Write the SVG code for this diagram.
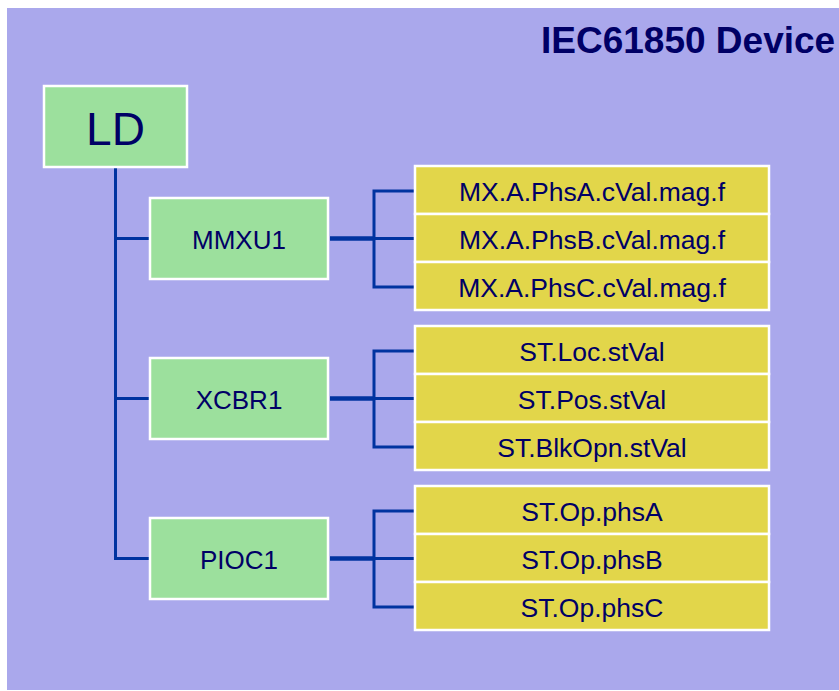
<svg xmlns="http://www.w3.org/2000/svg" width="839" height="691" viewBox="0 0 839 691">
<style>
.bg{fill:#AAA8EC}
.ln{fill:#9CE09D;stroke:#FFFFFF;stroke-width:2.5}
.da{fill:#E2D64A;stroke:#FFFFFF;stroke-width:2.5}
.t{font-family:"Liberation Sans",Arial,sans-serif;fill:#000066;text-anchor:middle}
.s{font-size:26px}
.d{font-size:26.5px}
.c{fill:none;stroke:#0033A0;stroke-width:3}
.cw{fill:none;stroke:#0033A0;stroke-width:4.5}
</style>
<rect x="0" y="0" width="839" height="691" fill="#FFFFFF"/>
<rect class="bg" x="7" y="8" width="840" height="682"/>
<text x="541" y="53" style="font-family:'Liberation Sans',Arial,sans-serif;font-weight:bold;font-size:37px;fill:#000066">IEC61850 Device</text>
<g id="connectors">
<path class="c" d="M115.5,167 V558.5 H150"/>
<path class="c" d="M115.5,238.5 H150"/>
<path class="c" d="M115.5,398.5 H150"/>
<path class="cw" d="M330,238.5 H374"/>
<path class="c" d="M415,191 H374 V287 H415 M374,238.5 H415"/>
<path class="cw" d="M330,398.5 H374"/>
<path class="c" d="M415,351 H374 V447 H415 M374,398.5 H415"/>
<path class="cw" d="M330,558.5 H374"/>
<path class="c" d="M415,511 H374 V607 H415 M374,558.5 H415"/>
</g>
<g id="LD">
<rect class="ln" x="44" y="86" width="143" height="81"/>
<text class="t" x="115.5" y="145" style="font-size:46px">LD</text>
</g>
<g id="MMXU1">
<rect class="ln" x="150" y="198" width="178" height="81"/>
<text class="t s" x="239" y="249">MMXU1</text>
</g>
<g id="XCBR1">
<rect class="ln" x="150" y="358" width="178" height="81"/>
<text class="t s" x="239" y="409">XCBR1</text>
</g>
<g id="PIOC1">
<rect class="ln" x="150" y="518" width="178" height="81"/>
<text class="t s" x="239" y="569">PIOC1</text>
</g>
<g id="MX_PhsA">
<rect class="da" x="415" y="166" width="354" height="48"/>
<text class="t d" x="592" y="201">MX.A.PhsA.cVal.mag.f</text>
</g>
<g id="MX_PhsB">
<rect class="da" x="415" y="214" width="354" height="48"/>
<text class="t d" x="592" y="249">MX.A.PhsB.cVal.mag.f</text>
</g>
<g id="MX_PhsC">
<rect class="da" x="415" y="262" width="354" height="48"/>
<text class="t d" x="592" y="297">MX.A.PhsC.cVal.mag.f</text>
</g>
<g id="ST_Loc">
<rect class="da" x="415" y="326" width="354" height="48"/>
<text class="t d" x="592" y="361">ST.Loc.stVal</text>
</g>
<g id="ST_Pos">
<rect class="da" x="415" y="374" width="354" height="48"/>
<text class="t d" x="592" y="409">ST.Pos.stVal</text>
</g>
<g id="ST_BlkOpn">
<rect class="da" x="415" y="422" width="354" height="48"/>
<text class="t d" x="592" y="457">ST.BlkOpn.stVal</text>
</g>
<g id="ST_phsA">
<rect class="da" x="415" y="486" width="354" height="48"/>
<text class="t d" x="592" y="521">ST.Op.phsA</text>
</g>
<g id="ST_phsB">
<rect class="da" x="415" y="534" width="354" height="48"/>
<text class="t d" x="592" y="569">ST.Op.phsB</text>
</g>
<g id="ST_phsC">
<rect class="da" x="415" y="582" width="354" height="48"/>
<text class="t d" x="592" y="617">ST.Op.phsC</text>
</g>
</svg>
